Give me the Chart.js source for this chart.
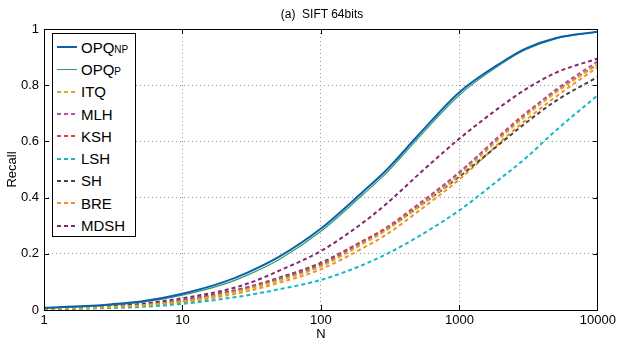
<!DOCTYPE html>
<html>
<head>
<meta charset="utf-8">
<script src="https://cdn.jsdelivr.net/npm/chart.js@4.4.1/dist/chart.umd.min.js"></script>
<style>
  html, body { margin: 0; padding: 0; background: #fff; }
  #wrap { position: relative; width: 619px; height: 342px; font-family: "Liberation Sans", Arial, sans-serif; }
  #title { position: absolute; left: 44px; width: 556px; top: 7px; text-align: center; font-size: 12px; color: #000; }
  #legend { position: absolute; left: 52px; top: 33px; width: 82px; height: 200px; border: 1px solid #000; background: #fff; padding-top: 2px; box-sizing: content-box; }
  .row { height: 22.3px; display: flex; align-items: center; font-size: 15px; color: #000; }
  .swatch { width: 20px; height: 2px; margin-left: 4px; margin-right: 4px; }
  .row sub { font-size: 10px; vertical-align: baseline; position: relative; top: 0; }
</style>
</head>
<body>
<div id="wrap">
  <canvas id="chart" width="619" height="342"></canvas>
  <div id="title">(a)&nbsp; SIFT 64bits</div>
  <div id="legend"></div>
</div>
<script>
// N values (log axis)
const nValues = [1, 2, 3, 5, 10, 20, 30, 50, 100, 200, 300, 500, 1000, 2000, 3000, 5000, 10000];

const seriesNames = ["OPQ_NP", "OPQ_P", "ITQ", "MLH", "KSH", "LSH", "SH", "BRE", "MDSH"];
const seriesColors = ["#0a5fae", "#2f9a6c", "#c9b514", "#b24fb0", "#ee3a3a", "#14b9c6", "#444444", "#ff8a2a", "#84266e"];
const seriesDashed = [false, false, true, true, true, true, true, true, true];

const opqNP = [0.008, 0.014, 0.02, 0.03, 0.058, 0.10, 0.135, 0.19, 0.29, 0.42, 0.50, 0.62, 0.775, 0.88, 0.93, 0.968, 0.99];
const opqP  = [0.007, 0.012, 0.017, 0.027, 0.053, 0.092, 0.126, 0.18, 0.28, 0.41, 0.49, 0.61, 0.765, 0.875, 0.926, 0.966, 0.99];
const itq   = [0.004, 0.007, 0.01, 0.016, 0.031, 0.056, 0.075, 0.105, 0.155, 0.235, 0.285, 0.365, 0.48, 0.615, 0.69, 0.775, 0.875];
const mlh   = [0.004, 0.007, 0.01, 0.017, 0.032, 0.058, 0.078, 0.11, 0.16, 0.24, 0.29, 0.37, 0.49, 0.62, 0.695, 0.785, 0.885];
const ksh   = [0.004, 0.007, 0.01, 0.017, 0.033, 0.06, 0.08, 0.112, 0.165, 0.245, 0.295, 0.375, 0.49, 0.625, 0.70, 0.78, 0.875];
const lsh   = [0.003, 0.005, 0.007, 0.011, 0.022, 0.04, 0.053, 0.074, 0.107, 0.16, 0.2, 0.26, 0.355, 0.47, 0.54, 0.64, 0.765];
const sh    = [0.004, 0.008, 0.011, 0.018, 0.035, 0.062, 0.082, 0.115, 0.168, 0.245, 0.29, 0.365, 0.475, 0.595, 0.665, 0.745, 0.83];
const bre   = [0.003, 0.006, 0.009, 0.014, 0.027, 0.05, 0.068, 0.097, 0.145, 0.22, 0.27, 0.35, 0.465, 0.6, 0.675, 0.76, 0.865];
const mdsh  = [0.005, 0.01, 0.014, 0.022, 0.042, 0.07, 0.095, 0.14, 0.21, 0.31, 0.38, 0.48, 0.61, 0.725, 0.785, 0.845, 0.895];
const seriesValues = [opqNP, opqP, itq, mlh, ksh, lsh, sh, bre, mdsh];

const xTicks = [1, 10, 100, 1000, 10000];
const yTicks = [0, 0.2, 0.4, 0.6, 0.8, 1];

const datasets = seriesNames.map((name, i) => ({
  label: name,
  data: nValues.map((n, j) => ({ x: n, y: seriesValues[i][j] })),
  borderColor: seriesColors[i],
  borderWidth: i === 1 ? 1.2 : 2,
  borderDash: seriesDashed[i] ? [4, 3] : [],
  pointRadius: 0,
  fill: false,
  cubicInterpolationMode: "monotone",
}));
// draw solid OPQ lines on top
datasets.forEach((d, i) => { d.order = i < 2 ? 0 : 1; });

const boxPlugin = {
  id: "box",
  afterDatasetsDraw(chart) {
    const { ctx, chartArea: a, scales } = chart;
    ctx.save();
    ctx.strokeStyle = "#000";
    ctx.lineWidth = 1;
    ctx.setLineDash([]);
    ctx.strokeRect(Math.round(a.left) + 0.5, Math.round(a.top) + 0.5, Math.round(a.right - a.left) - 1, Math.round(a.bottom - a.top));
    const len = 5;
    ctx.beginPath();
    yTicks.slice(1, -1).forEach(v => {
      const y = Math.round(scales.y.getPixelForValue(v)) + 0.5;
      ctx.moveTo(a.left, y); ctx.lineTo(a.left + len, y);
      ctx.moveTo(a.right, y); ctx.lineTo(a.right - len, y);
    });
    xTicks.slice(1, -1).forEach(v => {
      const x = Math.round(scales.x.getPixelForValue(v)) + 0.5;
      ctx.moveTo(x, a.bottom); ctx.lineTo(x, a.bottom - len);
      ctx.moveTo(x, a.top); ctx.lineTo(x, a.top + len);
    });
    ctx.stroke();
    ctx.restore();
  }
};

const font = { family: "'Liberation Sans', Arial, sans-serif", size: 13 };

new Chart(document.getElementById("chart").getContext("2d"), {
  type: "line",
  data: { datasets },
  options: {
    responsive: false,
    animation: false,
    layout: { padding: { top: 29, right: 19, left: 0, bottom: 0 } },
    plugins: { legend: { display: false }, tooltip: { enabled: false } },
    scales: {
      x: {
        type: "logarithmic",
        min: 1,
        max: 10000,
        afterFit(s) { s.height = 32; },
        afterBuildTicks(s) { s.ticks = xTicks.map(v => ({ value: v })); },
        ticks: { color: "#000", font, padding: 3, maxRotation: 0, autoSkip: false, callback: v => String(v) },
        grid: {
          drawTicks: false,
          color: c => (c.index === 0 || c.index === xTicks.length - 1) ? "rgba(0,0,0,0)" : "#9a9a9a",
          lineWidth: 1,
        },
        border: { display: false, dash: [1, 3] },
        title: { display: true, text: "N", color: "#000", font, padding: 0 },
      },
      y: {
        min: 0,
        max: 1,
        afterFit(s) { s.width = 44; },
        afterBuildTicks(s) { s.ticks = yTicks.map(v => ({ value: v })); },
        ticks: { color: "#000", font, padding: 5, callback: v => String(Number(v.toFixed(1))) },
        grid: {
          drawTicks: false,
          color: c => (c.index === 0 || c.index === yTicks.length - 1) ? "rgba(0,0,0,0)" : "#9a9a9a",
          lineWidth: 1,
        },
        border: { display: false, dash: [1, 3] },
        title: { display: true, text: "Recall", color: "#000", font, padding: 5 },
      },
    },
  },
  plugins: [boxPlugin],
});

// HTML legend built from the series arrays
const legend = document.getElementById("legend");
seriesNames.forEach((name, i) => {
  const row = document.createElement("div");
  row.className = "row";
  const sw = document.createElement("div");
  sw.className = "swatch";
  const col = seriesColors[i];
  sw.style.background = seriesDashed[i]
    ? `repeating-linear-gradient(to right, ${col} 0 4px, transparent 4px 7px)`
    : col;
  if (!seriesDashed[i] && i === 1) sw.style.height = "1.5px";
  const label = document.createElement("span");
  const parts = name.split("_");
  label.textContent = parts[0];
  if (parts[1]) {
    const sub = document.createElement("sub");
    sub.textContent = parts[1];
    label.appendChild(sub);
  }
  row.appendChild(sw);
  row.appendChild(label);
  legend.appendChild(row);
});
</script>
</body>
</html>
